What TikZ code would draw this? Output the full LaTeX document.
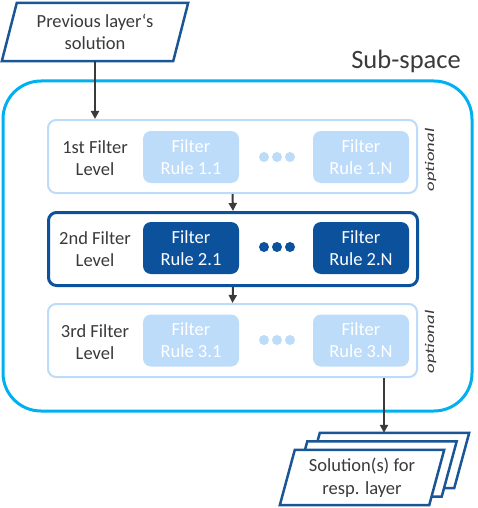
\documentclass[tikz,border=0pt]{standalone}
\usepackage{fontspec}
\setmainfont{Carlito}
\usetikzlibrary{arrows.meta}
\definecolor{cyanb}{HTML}{00B0F0}
\definecolor{lightb}{HTML}{BDDCFA}
\definecolor{darkb}{HTML}{0B519C}
\definecolor{parab}{HTML}{1A5596}
\definecolor{txt}{HTML}{3A3A3A}
\begin{document}
\begin{tikzpicture}[x=1pt,y=-1pt,
  lvlbox/.style={draw=#1, rounded corners=8pt, minimum width=369pt, minimum height=73pt, inner sep=0pt, fill=white},
  rulebox/.style={fill=#1, rounded corners=8pt, minimum width=96pt, minimum height=52pt, inner sep=0pt, text=white, align=center, font=\fontsize{18.5}{22}\selectfont},
  lvltxt/.style={text=txt, align=center, font=\fontsize{18.5}{22}\selectfont},
  dotc/.style={circle, fill=#1, minimum size=10pt, inner sep=0pt},
  paranode/.style={minimum width=#1, minimum height=55pt, inner sep=0pt, text=txt, align=center, font=\fontsize{18.5}{22.5}\selectfont},
  paraline/.style={draw=parab, line width=2.5pt, fill=white, line join=miter},
  arr/.style={draw=txt, line width=2pt, -{Triangle[length=8pt,width=8pt]}},
  opt/.style={rotate=90, text=txt, inner sep=0pt}
]
\useasboundingbox (0,0) rectangle (478,508);

% previous layer's solution
\node[paranode=171pt, minimum height=58pt] (prev) at (95,32) {Previous layer‘s\\solution};
\draw[paraline, fill=none] ([xshift=7.5pt]prev.north west) -- ([xshift=7.5pt]prev.north east) -- ([xshift=-7.5pt]prev.south east) -- ([xshift=-7.5pt]prev.south west) -- cycle;

% sub-space
\node[draw=cyanb, line width=3pt, rounded corners=38pt, minimum width=469pt, minimum height=330pt, inner sep=0pt] (sub) at (237.5,246) {};
\node[text=txt, font=\fontsize{26.5}{30}\selectfont, anchor=east, inner sep=0pt] (sublbl) at (461,61) {Sub-space};

% level 1
\node[lvlbox=lightb, line width=2pt] (l1) at (232.5,156.5) {};
\node[lvltxt] (t1) at (95,158) {1st Filter\\Level};
\node[rulebox=lightb] (r11) at (191,157) {Filter\\Rule 1.1};
\node[rulebox=lightb] (r1n) at (361,157) {Filter\\Rule 1.N};
\node[dotc=lightb] (d11) at (264,157) {};
\node[dotc=lightb] (d12) at (277,157) {};
\node[dotc=lightb] (d13) at (290,157) {};
\node[opt] (o1) at (430.5,160) {\scalebox{1.42}[1]{\fontsize{13.2}{15}\selectfont\itshape optional}};

% level 2
\node[lvlbox=darkb, line width=3pt] (l2) at (233,249) {};
\node[lvltxt] (t2) at (95,249) {2nd Filter\\Level};
\node[rulebox=darkb] (r21) at (191,248) {Filter\\Rule 2.1};
\node[rulebox=darkb] (r2n) at (361,248) {Filter\\Rule 2.N};
\node[dotc=darkb] (d21) at (264,247) {};
\node[dotc=darkb] (d22) at (277,247) {};
\node[dotc=darkb] (d23) at (290,247) {};

% level 3
\node[lvlbox=lightb, line width=2pt] (l3) at (232.5,340.5) {};
\node[lvltxt] (t3) at (95,342) {3rd Filter\\Level};
\node[rulebox=lightb] (r31) at (191,340.5) {Filter\\Rule 3.1};
\node[rulebox=lightb] (r3n) at (361,340.5) {Filter\\Rule 3.N};
\node[dotc=lightb] (d31) at (264,340) {};
\node[dotc=lightb] (d32) at (277,340) {};
\node[dotc=lightb] (d33) at (290,340) {};
\node[opt] (o3) at (430.5,342) {\scalebox{1.42}[1]{\fontsize{13.2}{15}\selectfont\itshape optional}};

% solutions stack
\node[paranode=149pt] (sol3) at (387,460.5) {};
\draw[paraline] ([xshift=7.5pt]sol3.north west) -- ([xshift=7.5pt]sol3.north east) -- ([xshift=-7.5pt]sol3.south east) -- ([xshift=-7.5pt]sol3.south west) -- cycle;
\node[paranode=149pt] (sol2) at (374.5,469) {};
\draw[paraline] ([xshift=7.5pt]sol2.north west) -- ([xshift=7.5pt]sol2.north east) -- ([xshift=-7.5pt]sol2.south east) -- ([xshift=-7.5pt]sol2.south west) -- cycle;
\node[paranode=149pt] (sol) at (362,477.5) {};
\draw[paraline] ([xshift=7.5pt]sol.north west) -- ([xshift=7.5pt]sol.north east) -- ([xshift=-7.5pt]sol.south east) -- ([xshift=-7.5pt]sol.south west) -- cycle;
\node[paranode=149pt] (soltxt) at (sol) {Solution(s) for\\resp. layer};

% arrows
\coordinate (outx) at (384,0);
\draw[arr] (prev.south) -- (prev.south |- l1.north);
\draw[arr] (l1.south) -- (l2.north);
\draw[arr] (l2.south) -- (l3.north);
\draw[arr] (l3.south -| outx) -- (sol3.north -| outx);
\end{tikzpicture}
\end{document}
